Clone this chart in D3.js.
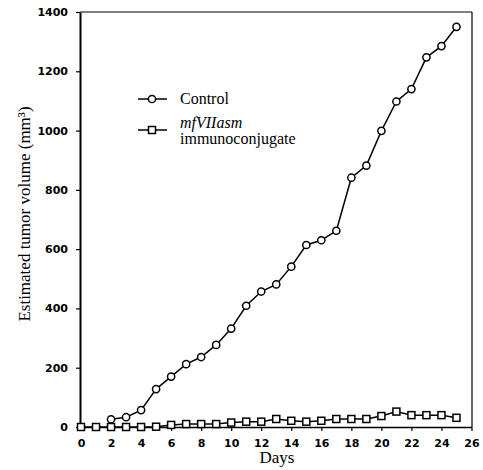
<!DOCTYPE html>
<html><head><meta charset="utf-8">
<script src="https://cdn.jsdelivr.net/npm/d3@7"></script>
<style>
body{margin:0;background:#fff;}
svg{display:block;}
</style></head>
<body>
<svg id="chart" width="483" height="470"></svg>
<script>
const controlDays = [2,3,4,5,6,7,8,9,10,11,12,13,14,15,16,17,18,19,20,21,22,23,24,25];
const controlValues = [26,33,57,128,170,212,236,277,332,409,457,481,541,614,630,662,841,882,999,1098,1140,1247,1285,1350];
const mfDays = [0,1,2,3,4,5,6,7,8,9,10,11,12,13,14,15,16,17,18,19,20,21,22,23,24,25];
const mfValues = [0,0,0,0,0,1,7,10,10,10,15,18,18,27,21,18,21,27,27,27,37,52,40,40,40,31];
const xTicks = [0,2,4,6,8,10,12,14,16,18,20,22,24,26];
const yTicks = [0,200,400,600,800,1000,1200,1400];
const legendLabels = ["Control", "mfVIIasm", "immunoconjugate"];

const serif = "'Liberation Serif', 'Times New Roman', serif";
const svg = d3.select("#chart");
const x = d3.scaleLinear().domain([0,26]).range([81,471.5]);
const y = d3.scaleLinear().domain([0,1400]).range([427,12]);

// frame
svg.append("line").attr("x1",80).attr("x2",472).attr("y1",12).attr("y2",12).attr("stroke","#000").attr("stroke-width",1);
svg.append("line").attr("x1",472).attr("x2",472).attr("y1",12).attr("y2",427).attr("stroke","#000").attr("stroke-width",1.2);

const xAxis = svg.append("g").attr("transform","translate(0,427)")
  .call(d3.axisBottom(x).tickValues(xTicks).tickFormat(d3.format("d")).tickSize(4).tickPadding(8).tickSizeOuter(0));
const yAxis = svg.append("g").attr("transform","translate(80,0)")
  .call(d3.axisLeft(y).tickValues(yTicks).tickFormat(d3.format("d")).tickSize(4).tickPadding(8).tickSizeOuter(0));
[xAxis,yAxis].forEach(g=>{
  g.selectAll("text").attr("font-family","DejaVu Sans").attr("font-size",11).attr("font-weight","bold").attr("fill","#000");
  g.selectAll("line").attr("stroke","#000").attr("stroke-width",1.2);
});
xAxis.select(".domain").attr("stroke","#000").attr("stroke-width",1.6);
yAxis.select(".domain").attr("stroke","#000").attr("stroke-width",2);

// axis titles
svg.append("text").attr("x",277).attr("y",463).attr("text-anchor","middle")
  .attr("font-family",serif).attr("font-size",17).text("Days");
svg.append("text").attr("transform","translate(30,214) rotate(-90)").attr("text-anchor","middle")
  .attr("font-family",serif).attr("font-size",17).text("Estimated tumor volume (mm³)");

const line = d3.line().x(d=>x(d[0])).y(d=>y(d[1]));
const ctrl = controlDays.map((d,i)=>[d,controlValues[i]]);
const mf = mfDays.map((d,i)=>[d,mfValues[i]]);

svg.append("path").datum(mf).attr("d",line).attr("fill","none").attr("stroke","#000").attr("stroke-width",1.5);
svg.append("path").datum(ctrl).attr("d",line).attr("fill","none").attr("stroke","#000").attr("stroke-width",1.5);

svg.selectAll("rect.mf").data(mf).enter().append("rect").attr("class","mf")
  .attr("x",d=>x(d[0])-3.5).attr("y",d=>y(d[1])-3.5).attr("width",7).attr("height",7)
  .attr("fill","#fff").attr("stroke","#000").attr("stroke-width",1.5);
svg.selectAll("circle.ctrl").data(ctrl).enter().append("circle").attr("class","ctrl")
  .attr("cx",d=>x(d[0])).attr("cy",d=>y(d[1])).attr("r",3.6)
  .attr("fill","#fff").attr("stroke","#000").attr("stroke-width",1.5);

// legend
const lg = svg.append("g");
lg.append("line").attr("x1",138).attr("x2",167).attr("y1",99).attr("y2",99).attr("stroke","#000").attr("stroke-width",1.5);
lg.append("circle").attr("cx",152).attr("cy",99).attr("r",3.6).attr("fill","#fff").attr("stroke","#000").attr("stroke-width",1.5);
lg.append("line").attr("x1",138).attr("x2",167).attr("y1",130).attr("y2",130).attr("stroke","#000").attr("stroke-width",1.5);
lg.append("rect").attr("x",148.5).attr("y",126.5).attr("width",7).attr("height",7).attr("fill","#fff").attr("stroke","#000").attr("stroke-width",1.5);
lg.append("text").attr("x",180).attr("y",103.5).attr("font-family",serif).attr("font-size",16).text(legendLabels[0]);
lg.append("text").attr("x",180).attr("y",128).attr("font-family",serif).attr("font-size",16).attr("font-style","italic").text(legendLabels[1]);
lg.append("text").attr("x",180).attr("y",144).attr("font-family",serif).attr("font-size",16).text(legendLabels[2]);
</script>
</body></html>
